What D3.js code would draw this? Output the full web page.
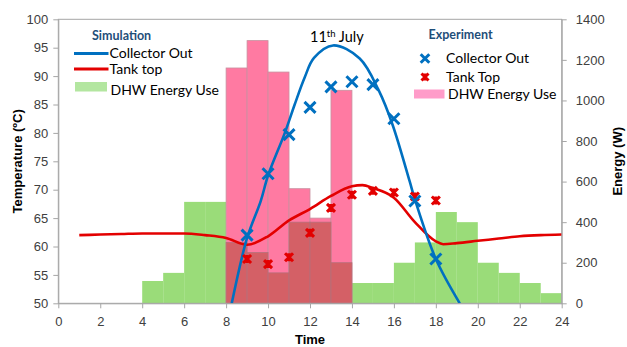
<!DOCTYPE html>
<html><head><meta charset="utf-8">
<script src="https://cdn.jsdelivr.net/npm/d3@7"></script>
<style>
html,body{margin:0;padding:0;background:#fff;}
svg{display:block;}
</style></head>
<body>
<svg id="chart" width="627" height="347"></svg>
<script>
// ---------------- DATA ----------------
const barHours = d3.range(0, 24); // start hour of each 1-h bar
const simEnergy = [0,0,0,0,110,150,500,500,300,250,150,400,400,200,100,100,200,300,450,400,200,150,100,50];
const expEnergy = [0,0,0,0,0,0,0,0,1160,1295,1140,565,420,1050,0,0,0,0,0,0,0,0,0,0];

const simCollectorX = [8.27, 9, 9.65, 10, 10.8, 11.27, 11.75, 12.19, 13.1, 14.37, 15.3, 15.94, 16.75, 17, 18, 19.14];
const simCollectorY = [50, 61.5, 68, 72.5, 80, 85, 89.8, 93.2, 95.4, 93.1, 87.3, 81.4, 71.5, 68.3, 57.8, 50];

const simTankX = [1, 2, 3, 4, 5, 6, 7, 8, 9, 10, 11, 12, 13, 14, 14.5, 15, 16, 17, 18, 18.35, 19, 20, 21, 22, 23, 24];
const simTankY = [62.0, 62.1, 62.2, 62.3, 62.3, 62.3, 62.0, 61.5, 60.3, 61.8, 64.6, 66.6, 68.9, 70.6, 70.8, 70.3, 68.6, 64.3, 60.9, 60.4, 60.6, 61.0, 61.4, 61.8, 62.0, 62.1];

const expHours = [9, 10, 11, 12, 13, 14, 15, 16, 17, 18];
const expCollector = [62.0, 72.8, 79.7, 84.5, 88.1, 89.0, 88.5, 82.5, 68.0, 57.8];
const expTank = [57.8, 56.9, 58.1, 62.4, 66.8, 69.1, 69.8, 69.5, 68.8, 68.1];

const xTicks = d3.range(0, 25, 2);
const tTicks = d3.range(50, 101, 5);
const eTicks = d3.range(0, 1401, 200);

// ---------------- LAYOUT ----------------
const svg = d3.select("#chart");
const L = 58.3, R = 561.7, T = 19.3, B = 303.3;
const x = d3.scaleLinear([0, 24], [L, R]);
const yT = d3.scaleLinear([50, 100], [B, T]);
const yE = d3.scaleLinear([0, 1400], [B, T]);

const cGreen = "#9adc79", cPink = "#ff7aa2", cOver = "#d46066";
const cBlue = "#0070c0", cRed = "#e30000";
const axisCol = "#a6a6a6", tickTxt = "#404040";
const sans = "'Liberation Sans', Arial, sans-serif";
const cal = "Lato, 'Open Sans', sans-serif";

svg.append("defs").append("clipPath").attr("id","plotclip")
  .append("rect").attr("x", L).attr("y", T).attr("width", R-L).attr("height", B-T);

const bars = barHours.map((h,i) => ({h, sim: simEnergy[i], exp: expEnergy[i]}));
const gBars = svg.append("g");
// simulation (green)
gBars.selectAll("rect.sim").data(bars.filter(d => d.sim > 0)).join("rect")
  .attr("x", d => x(d.h)).attr("width", d => x(d.h+1) - x(d.h))
  .attr("y", d => yE(d.sim)).attr("height", d => yE(0) - yE(d.sim))
  .attr("fill", cGreen);
// experiment (pink)
gBars.selectAll("rect.exp").data(bars.filter(d => d.exp > 0)).join("rect")
  .attr("x", d => x(d.h)).attr("width", d => x(d.h+1) - x(d.h))
  .attr("y", d => yE(d.exp)).attr("height", d => yE(0) - yE(d.exp))
  .attr("fill", cPink).attr("stroke", "#c8909f").attr("stroke-width", 0.8);
// overlap
gBars.selectAll("rect.ov").data(bars.filter(d => d.exp > 0 && d.sim > 0)).join("rect")
  .attr("x", d => x(d.h)).attr("width", d => x(d.h+1) - x(d.h))
  .attr("y", d => yE(Math.min(d.sim, d.exp))).attr("height", d => yE(0) - yE(Math.min(d.sim, d.exp)))
  .attr("fill", cOver).attr("stroke", "#b5707a").attr("stroke-width", 0.8);

// plot border
svg.append("rect").attr("x", L).attr("y", T).attr("width", R-L).attr("height", B-T)
  .attr("fill", "none").attr("stroke", axisCol).attr("stroke-width", 1);

// lines
const gLines = svg.append("g").attr("clip-path", "url(#plotclip)");
const line = d3.line().curve(d3.curveMonotoneX).x(d => x(d[0])).y(d => yT(d[1]));
gLines.append("path").datum(simTankX.map((v,i) => [v, simTankY[i]]))
  .attr("d", line).attr("fill", "none").attr("stroke", cRed).attr("stroke-width", 2.6);
gLines.append("path").datum(simCollectorX.map((v,i) => [v, simCollectorY[i]]))
  .attr("d", d3.line().curve(d3.curveCatmullRom.alpha(0.5)).x(d => x(d[0])).y(d => yT(d[1])))
  .attr("fill", "none").attr("stroke", cBlue).attr("stroke-width", 2.6);

// markers
const xPath = s => `M${-s},${-s}L${s},${s}M${-s},${s}L${s},${-s}`;
const starPath = s => `M${-s},${-s}L${s},${s}M${-s},${s}L${s},${-s}M0,${-s}L0,${s}`;
svg.append("g").selectAll("path").data(expHours.map((h,i) => [h, expTank[i]])).join("path")
  .attr("transform", d => `translate(${x(d[0])},${yT(d[1])})`)
  .attr("d", starPath(4)).attr("stroke", cRed).attr("stroke-width", 3).attr("fill", "none");
svg.append("g").selectAll("path").data(expHours.map((h,i) => [h, expCollector[i]])).join("path")
  .attr("transform", d => `translate(${x(d[0])},${yT(d[1])})`)
  .attr("d", xPath(5.5)).attr("stroke", cBlue).attr("stroke-width", 3).attr("fill", "none");

// axes
function styleAxis(g) {
  g.select(".domain").attr("stroke", axisCol);
  g.selectAll(".tick line").attr("stroke", axisCol);
  g.selectAll(".tick text").attr("fill", tickTxt).attr("font-family", sans).attr("font-size", 13);
}
svg.append("g").attr("transform", `translate(${L},0)`)
  .call(d3.axisLeft(yT).tickValues(tTicks).tickFormat(d3.format("d")).tickSize(5).tickPadding(5).tickSizeOuter(0)).call(styleAxis);
svg.append("g").attr("transform", `translate(${R},0)`)
  .call(d3.axisRight(yE).tickValues(eTicks).tickFormat(d3.format("d")).tickSize(5).tickPadding(9).tickSizeOuter(0)).call(styleAxis);
svg.append("g").attr("transform", `translate(0,${B})`)
  .call(d3.axisBottom(x).tickValues(xTicks).tickFormat(d3.format("d")).tickSize(5).tickPadding(8).tickSizeOuter(0)).call(styleAxis);

// axis titles
svg.append("text").attr("transform", `translate(17,${(T+B)/2}) rotate(-90)`)
  .attr("text-anchor", "middle").attr("dy", "0.35em")
  .attr("font-family", sans).attr("font-weight", "bold").attr("font-size", 13)
  .text("Temperature (ºC)");
svg.append("text").attr("transform", `translate(617,${(T+B)/2}) rotate(-90)`)
  .attr("text-anchor", "middle").attr("dy", "0.35em")
  .attr("font-family", sans).attr("font-weight", "bold").attr("font-size", 13)
  .text("Energy (W)");
svg.append("text").attr("x", (L+R)/2).attr("y", 343.5).attr("text-anchor", "middle")
  .attr("font-family", sans).attr("font-weight", "bold").attr("font-size", 13).text("Time");

// date label
const dl = svg.append("text").attr("x", 310).attr("y", 42).attr("font-family", cal).attr("font-size", 14.5).attr("fill", "#000");
dl.append("tspan").text("11");
dl.append("tspan").attr("font-size", 9.5).attr("dy", -5).text("th");
dl.append("tspan").attr("dy", 5).text(" July");

// legends
const legTitle = "#1f4e79";
svg.append("text").attr("x", 92).attr("y", 40).attr("font-family", cal).attr("font-weight", "bold")
  .attr("font-size", 12.5).attr("fill", legTitle).text("Simulation");
const simLeg = [
  {type: "line", color: cBlue, label: "Collector Out", y: 53.5, ty: 57.5},
  {type: "line", color: cRed, label: "Tank top", y: 69, ty: 73.5},
  {type: "rect", color: "#b3e6a0", label: "DHW Energy Use", y: 87, ty: 95}
];
simLeg.forEach(d => {
  if (d.type === "line") svg.append("line").attr("x1", 74).attr("x2", 108.5).attr("y1", d.y).attr("y2", d.y)
    .attr("stroke", d.color).attr("stroke-width", 3);
  else svg.append("rect").attr("x", 75).attr("y", d.y-5).attr("width", 32).attr("height", 9.5).attr("fill", d.color);
  svg.append("text").attr("x", d.type === "line" ? 109.5 : 110.5).attr("y", d.ty).attr("font-family", cal)
    .attr("font-size", 14).attr("fill", "#000").text(d.label);
});

svg.append("text").attr("x", 428.5).attr("y", 39).attr("font-family", cal).attr("font-weight", "bold")
  .attr("font-size", 12.5).attr("fill", legTitle).text("Experiment");
svg.append("path").attr("transform", "translate(425,58.5)").attr("d", xPath(4.3))
  .attr("stroke", cBlue).attr("stroke-width", 3).attr("fill", "none");
svg.append("text").attr("x", 446).attr("y", 63).attr("font-family", cal).attr("font-size", 14).text("Collector Out");
svg.append("path").attr("transform", "translate(425,77)").attr("d", starPath(3.5))
  .attr("stroke", cRed).attr("stroke-width", 3).attr("fill", "none");
svg.append("text").attr("x", 446).attr("y", 81.5).attr("font-family", cal).attr("font-size", 14).text("Tank Top");
svg.append("rect").attr("x", 414).attr("y", 89.5).attr("width", 30.5).attr("height", 9).attr("fill", "#ff9cc9");
svg.append("text").attr("x", 448).attr("y", 99).attr("font-family", cal).attr("font-size", 14).text("DHW Energy Use");
</script>
</body></html>
